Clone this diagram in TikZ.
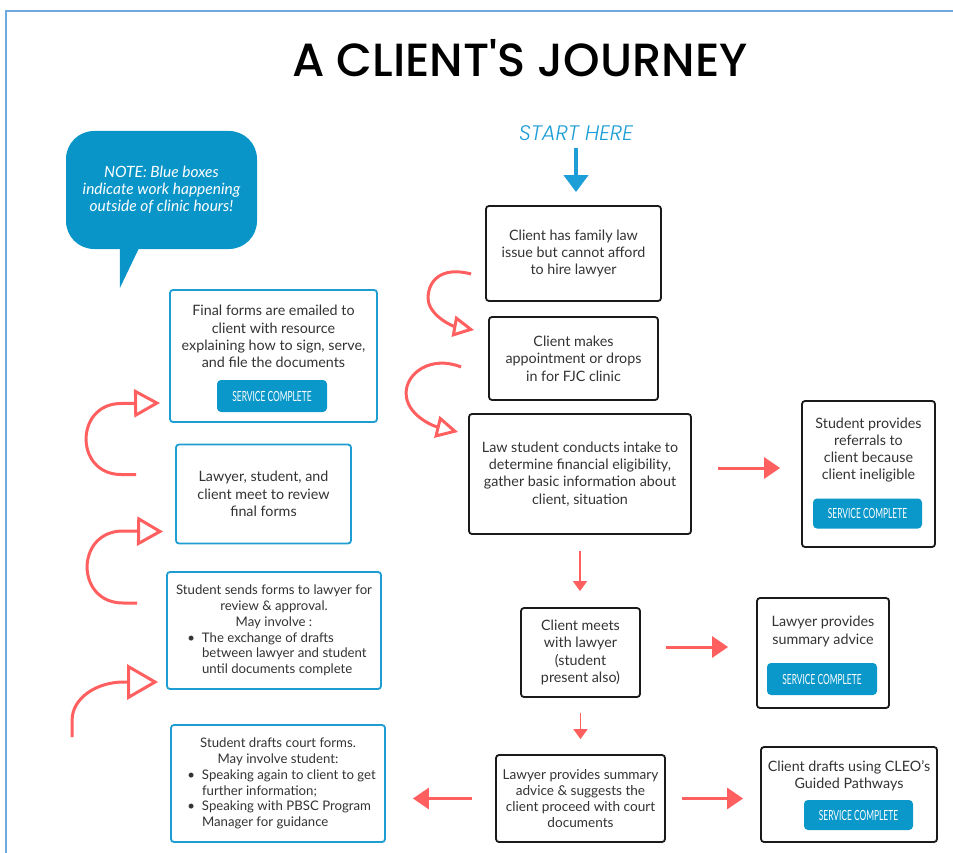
\documentclass[tikz,border=0pt]{standalone}
\usepackage{fontspec}
\setmainfont{Lato}
\newfontfamily\titlefont{Poppins}[UprightFont={* Medium}]
\newfontfamily\startfont{Poppins}[ItalicFont={* Light Italic}]
\newfontfamily\condfont[FakeStretch=0.6]{Lato}
\usetikzlibrary{arrows.meta}
\definecolor{framecol}{HTML}{6FA8DC}
\definecolor{noteblue}{HTML}{0A95C8}
\definecolor{btnblue}{HTML}{0A97CA}
\definecolor{boxblue}{HTML}{1E9DD3}
\definecolor{startblue}{HTML}{1E9ED6}
\definecolor{arrred}{HTML}{FF5F5F}
\definecolor{textcol}{HTML}{333333}
\definecolor{boxblack}{HTML}{1A1A1A}
\newcommand\bodyfont{\fontsize{14.3}{17.3}\selectfont}
\newcommand\smallbody{\fontsize{13.2}{15.7}\selectfont}
\newcommand\bitem{\par\leavevmode\llap{\textbullet\hspace{7pt}}}
\tikzset{
  sz/.style 2 args={minimum width=#1pt, minimum height=#2pt},
  blackbox/.style={draw=boxblack, line width=1.8pt, rounded corners=3pt, fill=white, text=textcol, align=center, inner sep=0pt, font=\bodyfont},
  bluebox/.style={draw=boxblue, line width=1.8pt, rounded corners=3pt, fill=white, text=textcol, align=center, inner sep=0pt, font=\bodyfont},
  boxtext/.style={text=textcol, align=center, inner sep=0pt, font=\bodyfont},
  button/.style={fill=btnblue, rounded corners=4pt, text=white, inner sep=0pt, font=\condfont\fontsize{14}{15}\selectfont, minimum width=109pt, minimum height=30pt},
  notebubble/.style={fill=noteblue, rounded corners=28pt, text=white, align=center, inner sep=0pt, font=\itshape\fontsize{15.5}{17}\selectfont},
  bigarrow/.style={draw=arrred, line width=3pt, -{Triangle[length=16pt, width=21pt]}},
  smallarrow/.style={draw=arrred, line width=1.6pt, -{Triangle[length=10pt, width=14pt]}},
  startarrow/.style={draw=startblue, line width=4pt, -{Triangle[length=17pt, width=24pt]}},
  curvearrow/.style={draw=arrred, line width=3pt, line join=round}
}
\begin{document}
\begin{tikzpicture}[x=1pt, y=-1pt]
\useasboundingbox (0,0) rectangle (953,853);
% frame
\draw[framecol, line width=1.5pt] (6,853) -- (6,11) -- (953,11);
% title
\node[inner sep=0pt, font=\titlefont\fontsize{46.5}{50}\selectfont] (title) at (520,58) {A CLIENT'S JOURNEY};
% note bubble
\node[notebubble, sz={191}{118}] (note) at (161.5,190) {NOTE: Blue boxes\\indicate work happening\\outside of clinic hours!};
\fill[noteblue] ([xshift=54pt, yshift=9pt]note.south west) -- ([xshift=54pt, yshift=-39pt]note.south west) -- ([xshift=77pt, yshift=9pt]note.south west) -- cycle;
% start
\node[inner sep=0pt, text=startblue, font=\startfont\itshape\fontsize{21}{24}\selectfont] (start) at (576,133) {START HERE};
% black boxes
\node[blackbox, sz={175}{95}] (b1) at (573.5,253.5) {Client has family law\\issue but cannot afford\\to hire lawyer};
\node[blackbox, sz={169}{83}] (b2) at (573.5,358.5) {Client makes\\appointment or drops\\in for FJC clinic};
\node[blackbox, sz={222}{120}] (b3) at (580,474) {Law student conducts intake to\\determine financial eligibility,\\gather basic information about\\client, situation};
\node[blackbox, sz={133}{146}] (r1) at (868.5,474) {};
\node[boxtext] (r1t) at (868.5,450) {Student provides\\referrals to\\client because\\client ineligible};
\node[button] (r1b) at (867.5,513.5) {SERVICE COMPLETE};
\node[blackbox, sz={119}{89}] (b4) at (580.5,652.5) {Client meets\\with lawyer\\(student\\present also)};
\node[blackbox, sz={132}{110}] (r2) at (823,653) {};
\node[boxtext] (r2t) at (823,631.5) {Lawyer provides\\summary advice};
\node[button, minimum height=32pt, minimum width=110pt] (r2b) at (822,679) {SERVICE COMPLETE};
\node[blackbox, sz={169}{87}, font=\fontsize{13.6}{16}\selectfont] (b6) at (580.5,798.5) {Lawyer provides summary\\advice \& suggests the\\client proceed with court\\documents};
\node[blackbox, sz={176}{95}] (r3) at (849,794.5) {};
\node[boxtext] (r3t) at (849,775.5) {Client drafts using CLEO's\\Guided Pathways};
\node[button] (r3b) at (858.5,815) {SERVICE COMPLETE};
% blue boxes
\node[bluebox, sz={207}{132}] (l1) at (273.5,356) {};
\node[boxtext] (l1t) at (273.5,336.5) {Final forms are emailed to\\client with resource\\explaining how to sign, serve,\\and file the documents};
\node[button, minimum height=32pt, minimum width=110pt] (l1b) at (272,396) {SERVICE COMPLETE};
\node[bluebox, sz={175}{99}] (l2) at (263.5,494) {Lawyer, student, and\\client meet to review\\final forms};
\node[bluebox, sz={214}{117}, font=\smallbody] (l3) at (274,630.5) {\parbox{214pt}{\centering Student sends forms to lawyer for\\review \& approval.\\May involve :\par\raggedright\leftskip=35pt\bitem The exchange of drafts\\between lawyer and student\\until documents complete\par}};
\node[bluebox, sz={214}{117}, font=\smallbody] (l4) at (278,783.5) {\parbox{214pt}{\centering Student drafts court forms.\\May involve student:\par\raggedright\leftskip=31pt\bitem Speaking again to client to get\\further information;\bitem Speaking with PBSC Program\\Manager for guidance\par}};
% straight arrows
\draw[startarrow, shorten <=7pt, shorten >=13pt] (start.south) -- (start.south |- b1.north);
\draw[bigarrow, shorten <=26pt, shorten >=21pt] ([yshift=6pt]b3.east) -- ([yshift=6pt]r1.west);
\draw[smallarrow, shorten <=16pt, shorten >=16pt] (b3.south) -- (b3.south |- b4.north);
\draw[bigarrow, shorten <=25pt, shorten >=28pt] ([yshift=5.5pt]b4.east) -- ([yshift=5.5pt]b4.east -| r2.west);
\draw[smallarrow, shorten <=15pt, shorten >=15pt] (b4.south) -- (b4.south |- b6.north);
\draw[bigarrow, shorten <=16pt, shorten >=17pt] (b6.east) -- (b6.east -| r3.west);
\draw[bigarrow, shorten <=23pt, shorten >=27pt] (b6.west) -- (b6.west -| l4.east);
% curved arrows
\coordinate (c1a) at ([xshift=-14pt, yshift=-20.5pt]b1.west);
\coordinate (c1b) at ([xshift=-14pt, yshift=28.5pt]b2.west);
\draw[curvearrow, -{Triangle[open, length=21pt, width=21pt]}] (c1a) .. controls +(-30,-8) and +(0,-17) .. ++(-43,24) .. controls +(0,17) and +(-22,-4) .. (c1b);
\coordinate (c2a) at ([xshift=-27pt, yshift=-8.5pt]b2.west);
\coordinate (c2b) at ([xshift=-10pt, yshift=42pt]b3.west);
\draw[curvearrow, -{Triangle[open, length=22pt, width=22pt]}] (c2a) .. controls +(-30,-12) and +(0,-20) .. ++(-55,26) .. controls +(0,22) and +(-25,-6) .. (c2b);
\coordinate (c3a) at ([xshift=-39pt, yshift=19.5pt]l2.west);
\coordinate (c3b) at ([xshift=-9pt, yshift=-47pt]l1.west);
\draw[curvearrow, -{Triangle[open, length=26pt, width=28pt]}] (c3a) -- ++(-15,0) .. controls +(-46.7,0) and +(-46.7,0) .. ++(0,-71) -- (c3b);
\coordinate (c4a) at ([xshift=-29pt, yshift=27.5pt]l3.west);
\coordinate (c4b) at ([xshift=-12pt, yshift=-37.5pt]l2.west);
\draw[curvearrow, -{Triangle[open, length=26pt, width=29pt]}] (c4a) -- ++(-14,0) .. controls +(-48,0) and +(-48,0) .. ++(0,-72) -- (c4b);
\coordinate (c5a) at ([xshift=-98pt, yshift=46.5pt]l4.west);
\coordinate (c5b) at ([xshift=-8pt, yshift=-51.5pt]l3.west);
\draw[curvearrow, -{Triangle[open, length=31pt, width=35pt]}] (c5a) -- ++(0,-17) .. controls +(0,-21) and +(-29,0) .. ++(52,-38) -- (c5b);
\end{tikzpicture}
\end{document}
